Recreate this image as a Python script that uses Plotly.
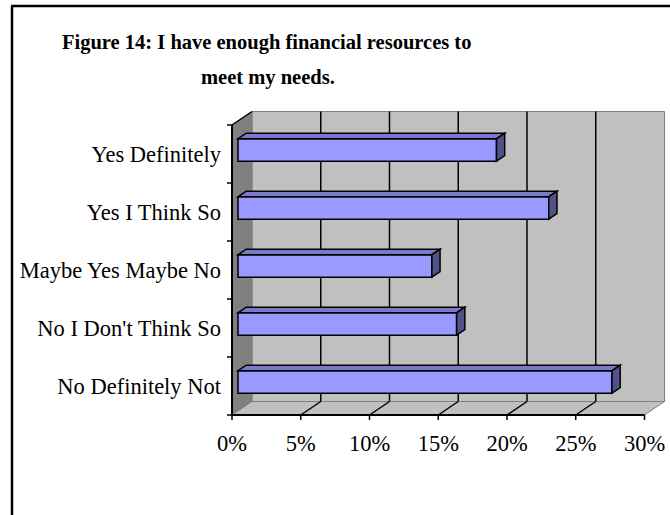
import plotly.graph_objects as go

# Survey responses (bottom to top) and share of respondents, in percent
categories = [
    "No Definitely Not",
    "No I Don't Think So",
    "Maybe Yes Maybe No",
    "Yes I Think So",
    "Yes Definitely",
]
percent = [27.2, 15.9, 14.1, 22.6, 18.8]
x_ticks = [0, 5, 10, 15, 20, 25, 30]
x_tick_labels = ["0%", "5%", "10%", "15%", "20%", "25%", "30%"]
title_lines = ["Figure 14: I have enough financial resources to", "meet my needs."]

# ---- canvas geometry -------------------------------------------------------
W, H = 670, 515
ML, MR, MT, MB = 222, 0, 100, 90          # plot area = 222..670 x 100..425 px
ORIGIN_PX, PX_PER_PCT = 232, 13.75         # front axis: 0% at x=232 px
FLOOR_PX, PX_PER_CAT = 415, 58             # front floor edge at y=415 px
x_range = [(ML - ORIGIN_PX) / PX_PER_PCT, (W - MR - ORIGIN_PX) / PX_PER_PCT]
y_range = [-0.5 - (H - MB - FLOOR_PX) / PX_PER_CAT, -0.5 + (FLOOR_PX - MT) / PX_PER_CAT]

# 3-D depth of the box (front plane -> back wall), in axis units
DX = 20 / PX_PER_PCT
DY = 13.5 / PX_PER_CAT
XMAX = x_ticks[-1]
YB, YT = -0.5, len(categories) - 0.5

# bars sit between 30% and 71% of the depth
D0, D1 = 0.30, 0.71
BAR_W = 0.386

FONT = "Liberation Serif, Times New Roman, serif"
WALL = "#c0c0c0"
SIDE_WALL = "#808080"
EDGE = "#808080"
BAR_FRONT = "#9999ff"
BAR_TOP = "#7a7acc"
BAR_SIDE = "#52528a"


def poly(pts):
    return "M " + " L ".join(f"{x},{y}" for x, y in pts) + " Z"


def px_x(px):
    return (px - ML) / (W - ML - MR)


def px_y(py):
    return (H - MB - py) / (H - MT - MB)


shapes = []

# walls and floor
shapes.append(dict(type="path", xref="x", yref="y", layer="below",
                   path=poly([(DX, YB + DY), (XMAX + DX, YB + DY), (XMAX + DX, YT + DY), (DX, YT + DY)]),
                   fillcolor=WALL, line=dict(color=EDGE, width=1)))
shapes.append(dict(type="path", xref="x", yref="y", layer="below",
                   path=poly([(0, YB), (0, YT), (DX, YT + DY), (DX, YB + DY)]),
                   fillcolor=SIDE_WALL, line=dict(color=EDGE, width=1)))
shapes.append(dict(type="path", xref="x", yref="y", layer="below",
                   path=poly([(0, YB), (XMAX, YB), (XMAX + DX, YB + DY), (DX, YB + DY)]),
                   fillcolor=WALL, line=dict(color=EDGE, width=1)))

# gridlines on the back wall and across the floor
for v in x_ticks[1:-1]:
    shapes.append(dict(type="line", xref="x", yref="y", layer="below",
                       x0=v + DX, x1=v + DX, y0=YB + DY, y1=YT + DY,
                       line=dict(color="black", width=1.5)))
    shapes.append(dict(type="line", xref="x", yref="y", layer="below",
                       x0=v, x1=v + DX, y0=YB, y1=YB + DY,
                       line=dict(color="black", width=1.5)))

# front axis lines with ticks
shapes.append(dict(type="line", xref="x", yref="y", layer="below",
                   x0=0, x1=XMAX, y0=YB, y1=YB, line=dict(color="black", width=2)))
shapes.append(dict(type="line", xref="x", yref="y", layer="below",
                   x0=0, x1=0, y0=YB, y1=YT, line=dict(color="black", width=2)))
shapes.append(dict(type="line", xref="x", yref="y", layer="below",
                   x0=0, x1=DX, y0=YT, y1=YT + DY, line=dict(color="black", width=1.5)))
tick_x = 5 / PX_PER_PCT
tick_y = 5 / PX_PER_CAT
for v in x_ticks:
    shapes.append(dict(type="line", xref="x", yref="y", layer="below",
                       x0=v, x1=v, y0=YB, y1=YB - tick_y, line=dict(color="black", width=1.5)))
for k in range(len(categories) + 1):
    shapes.append(dict(type="line", xref="x", yref="y", layer="below",
                       x0=0, x1=-tick_x, y0=k - 0.5, y1=k - 0.5, line=dict(color="black", width=1.5)))

# bar front faces come from the Bar trace; top and side faces drawn here
ox, oy = D0 * DX, D0 * DY
ddx, ddy = (D1 - D0) * DX, (D1 - D0) * DY
for k, v in enumerate(percent):
    yc = k + oy
    y0, y1 = yc - BAR_W / 2, yc + BAR_W / 2
    x0, x1 = ox, ox + v
    shapes.append(dict(type="path", xref="x", yref="y", layer="above",
                       path=poly([(x0, y1), (x1, y1), (x1 + ddx, y1 + ddy), (x0 + ddx, y1 + ddy)]),
                       fillcolor=BAR_TOP, line=dict(color="black", width=1.5)))
    shapes.append(dict(type="path", xref="x", yref="y", layer="above",
                       path=poly([(x1, y0), (x1, y1), (x1 + ddx, y1 + ddy), (x1 + ddx, y0 + ddy)]),
                       fillcolor=BAR_SIDE, line=dict(color="black", width=1.5)))

# outer chart frame (open at right and bottom edges)
shapes.append(dict(type="line", xref="paper", yref="paper",
                   x0=px_x(12), x1=px_x(12), y0=px_y(6), y1=px_y(H + 10),
                   line=dict(color="black", width=2.5)))
shapes.append(dict(type="line", xref="paper", yref="paper",
                   x0=px_x(11), x1=px_x(W + 10), y0=px_y(6), y1=px_y(6),
                   line=dict(color="black", width=2.5)))

fig = go.Figure(go.Bar(
    x=percent,
    base=[ox] * len(percent),
    y=[k + oy for k in range(len(categories))],
    width=BAR_W,
    orientation="h",
    marker=dict(color=BAR_FRONT, line=dict(color="black", width=1.5)),
    hovertext=categories,
    hoverinfo="text+x",
))

annotations = [
    dict(text=f"<b>{title_lines[0]}</b>", xref="paper", yref="paper",
         x=px_x(266), y=px_y(42), xanchor="center", yanchor="middle", showarrow=False,
         font=dict(family=FONT, size=20.5, color="black")),
    dict(text=f"<b>{title_lines[1]}</b>", xref="paper", yref="paper",
         x=px_x(268), y=px_y(77), xanchor="center", yanchor="middle", showarrow=False,
         font=dict(family=FONT, size=20.5, color="black")),
]

fig.update_layout(
    width=W, height=H,
    margin=dict(l=ML, r=MR, t=MT, b=MB, pad=0),
    paper_bgcolor="white", plot_bgcolor="white",
    showlegend=False,
    shapes=shapes,
    annotations=annotations,
    font=dict(family=FONT, size=22.5, color="black"),
    xaxis=dict(range=x_range, tickvals=x_ticks, ticktext=x_tick_labels,
               showgrid=False, zeroline=False, showline=False, ticks="",
               ticklabelstandoff=2, fixedrange=True),
    yaxis=dict(range=y_range, tickvals=list(range(len(categories))), ticktext=categories,
               showgrid=False, zeroline=False, showline=False, ticks="",
               fixedrange=True),
)

fig.write_html("out.html")
